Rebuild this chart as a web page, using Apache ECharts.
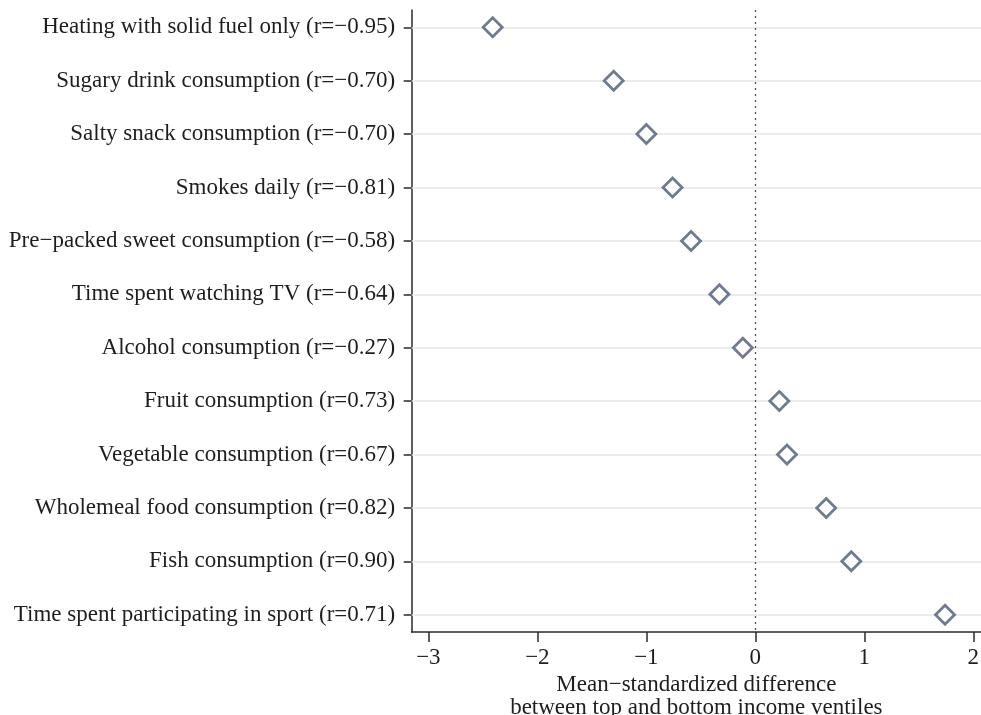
<!DOCTYPE html>
<html>
<head>
<meta charset="utf-8">
<script src="https://cdn.jsdelivr.net/npm/echarts@6/dist/echarts.min.js"></script>
<style>
html,body{margin:0;padding:0;background:#fff;}
#chart{width:981px;height:715px;}
</style>
</head>
<body>
<div id="chart"></div>
<script>
const categories = [
  "Heating with solid fuel only (r=\u22120.95)",
  "Sugary drink consumption (r=\u22120.70)",
  "Salty snack consumption (r=\u22120.70)",
  "Smokes daily (r=\u22120.81)",
  "Pre\u2212packed sweet consumption (r=\u22120.58)",
  "Time spent watching TV (r=\u22120.64)",
  "Alcohol consumption (r=\u22120.27)",
  "Fruit consumption (r=0.73)",
  "Vegetable consumption (r=0.67)",
  "Wholemeal food consumption (r=0.82)",
  "Fish consumption (r=0.90)",
  "Time spent participating in sport (r=0.71)"
];
const values = [-2.41, -1.30, -1.00, -0.76, -0.59, -0.33, -0.115, 0.22, 0.29, 0.65, 0.88, 1.74];
const xTicks = [-3, -2, -1, 0, 1, 2];
const xTitle = "Mean\u2212standardized difference\nbetween top and bottom income ventiles";

const rowPos = categories.map((c, i) => i + 1);
const data = values.map((v, i) => [v, rowPos[i]]);
const fmtNum = v => (v < 0 ? "\u2212" + Math.abs(v) : String(v));

const chart = echarts.init(document.getElementById('chart'), null, {renderer: 'canvas'});
const font = "'Liberation Serif', 'DejaVu Serif', serif";
chart.setOption({
  animation: false,
  backgroundColor: '#fff',
  textStyle: {fontFamily: font},
  grid: {left: 411.7, right: 0, top: 10, bottom: 83, outerBoundsMode: 'none', containLabel: false},
  xAxis: {
    type: 'value',
    min: -3.153, max: 2.07,
    axisLine: {show: true, onZero: false, lineStyle: {color: '#2a2a2a', width: 1.5}},
    axisTick: {show: true, length: 10, customValues: xTicks, lineStyle: {color: '#2a2a2a', width: 1.5}},
    axisLabel: {customValues: xTicks, formatter: fmtNum, color: '#1e1e1e', fontSize: 23, fontFamily: font, margin: 14},
    splitLine: {show: false},
    name: xTitle,
    nameLocation: 'middle',
    nameGap: 40,
    nameTextStyle: {color: '#1e1e1e', fontSize: 23, fontFamily: font, lineHeight: 23}
  },
  yAxis: {
    type: 'value',
    inverse: true,
    min: 0.676, max: 12.324,
    axisLine: {show: true, onZero: false, lineStyle: {color: '#2a2a2a', width: 1.5}},
    axisTick: {show: true, length: 8, customValues: rowPos, lineStyle: {color: '#2a2a2a', width: 1.5}},
    axisLabel: {
      customValues: rowPos,
      formatter: v => categories[Math.round(v) - 1] || '',
      color: '#1e1e1e', fontSize: 23, fontFamily: font, margin: 16.5
    },
    splitLine: {show: false}
  },
  series: [
    {
      type: 'line',
      silent: true,
      data: [],
      markLine: {
        silent: true,
        symbol: ['none', 'none'],
        label: {show: false},
        lineStyle: {color: '#e6e6e6', width: 1.5, type: 'solid'},
        data: rowPos.map(r => ({yAxis: r}))
      }
    },
    {
      type: 'line',
      silent: true,
      data: [],
      markLine: {
        silent: true,
        symbol: ['none', 'none'],
        label: {show: false},
        lineStyle: {color: '#555', width: 1.3, type: [2, 4]},
        data: [{xAxis: 0}]
      }
    },
    {
      type: 'scatter',
      symbol: 'diamond',
      symbolSize: 19,
      itemStyle: {color: '#fff', borderColor: '#4a5a75', borderWidth: 2.8},
      data: data,
      z: 5
    }
  ]
});
</script>
</body>
</html>
